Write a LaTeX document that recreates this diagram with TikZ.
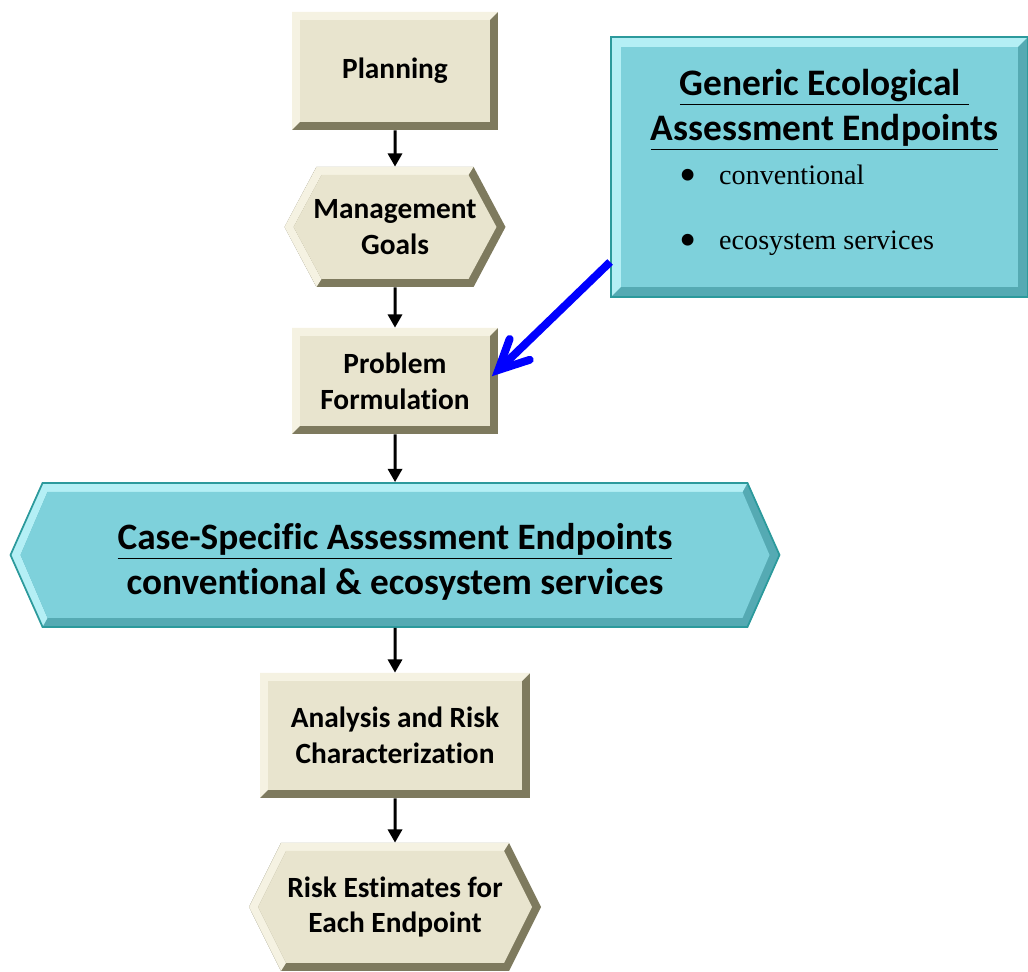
\documentclass[tikz,border=0pt]{standalone}
\usepackage{fontspec}
\setmainfont[Ligatures=NoCommon]{Carlito}
\newfontfamily\bulletfont{Liberation Serif}
\usetikzlibrary{shapes.symbols,arrows.meta,calc}

\definecolor{beigeface}{HTML}{E8E4CE}
\definecolor{beigelight}{HTML}{F5F2E2}
\definecolor{beigedark}{HTML}{7E7A5E}
\definecolor{tealface}{HTML}{7ED1DB}
\definecolor{teallight}{HTML}{B4EFF5}
\definecolor{tealdark}{HTML}{55AAB3}
\definecolor{tealedge}{HTML}{2C9A9C}

\newcommand{\ppb}{path picture bounding box}

\tikzstyle{stepbox} = [rectangle, fill=beigedark, align=center, font=\fontsize{16.7}{20.3}\selectfont\bfseries, path picture={
  \fill[beigelight] (\ppb.south west) -- (\ppb.north west) -- (\ppb.north east) -- ++(-0.16,-0.16) -- ($(\ppb.north west)+(0.16,-0.16)$) -- ($(\ppb.south west)+(0.16,0.16)$) -- cycle;
  \fill[beigeface] ($(\ppb.south west)+(0.16,0.16)$) rectangle ($(\ppb.north east)+(-0.16,-0.16)$);
}]
\tikzstyle{hexbox} = [signal, signal to=east and west, inner xsep=-3pt, fill=beigedark, align=center, font=\fontsize{16.7}{20.3}\selectfont\bfseries, path picture={
  \fill[beigelight] ($(\ppb.south west)+(0.64,0)$) -- (\ppb.west) -- ($(\ppb.north west)+(0.64,0)$) -- ($(\ppb.north east)+(-0.64,0)$) -- ($(\ppb.north east)+(-0.74,-0.16)$) -- ($(\ppb.north west)+(0.74,-0.16)$) -- ($(\ppb.west)+(0.18,0)$) -- ($(\ppb.south west)+(0.74,0.16)$) -- cycle;
  \fill[beigeface] ($(\ppb.west)+(0.18,0)$) -- ($(\ppb.north west)+(0.74,-0.16)$) -- ($(\ppb.north east)+(-0.74,-0.16)$) -- ($(\ppb.east)+(-0.18,0)$) -- ($(\ppb.south east)+(-0.74,0.16)$) -- ($(\ppb.south west)+(0.74,0.16)$) -- cycle;
}]
\tikzstyle{tealbox} = [rectangle, fill=tealdark, draw=tealedge, line width=1pt, path picture={
  \fill[teallight] (\ppb.south west) -- (\ppb.north west) -- (\ppb.north east) -- ++(-0.2,-0.2) -- ($(\ppb.north west)+(0.2,-0.2)$) -- ($(\ppb.south west)+(0.2,0.2)$) -- cycle;
  \fill[tealface] ($(\ppb.south west)+(0.2,0.2)$) rectangle ($(\ppb.north east)+(-0.2,-0.2)$);
}]
\tikzstyle{tealhex} = [signal, signal to=east and west, fill=tealdark, draw=tealedge, line width=1pt, align=center, font=\fontsize{21.2}{25.5}\selectfont\bfseries, path picture={
  \fill[teallight] ($(\ppb.south west)+(0.64,0)$) -- (\ppb.west) -- ($(\ppb.north west)+(0.64,0)$) -- ($(\ppb.north east)+(-0.64,0)$) -- ($(\ppb.north east)+(-0.74,-0.18)$) -- ($(\ppb.north west)+(0.74,-0.18)$) -- ($(\ppb.west)+(0.2,0)$) -- ($(\ppb.south west)+(0.74,0.18)$) -- cycle;
  \fill[tealface] ($(\ppb.west)+(0.2,0)$) -- ($(\ppb.north west)+(0.74,-0.18)$) -- ($(\ppb.north east)+(-0.74,-0.18)$) -- ($(\ppb.east)+(-0.2,0)$) -- ($(\ppb.south east)+(-0.74,0.18)$) -- ($(\ppb.south west)+(0.74,0.18)$) -- cycle;
}]
\tikzstyle{arrow} = [line width=1.7pt, -{Triangle[length=7.5pt,width=8pt]}]
\tikzstyle{bluearrow} = [line width=4.5pt, blue]
\tikzstyle{bluebarb} = [line width=4.5pt, blue, line cap=round, line join=miter]

\begin{document}
\begin{tikzpicture}
\useasboundingbox (0,0) rectangle (20.56,19.44);

\node (plan) [stepbox, minimum width=4.12cm, minimum height=2.36cm, xshift=7.9cm, yshift=18.02cm] {Planning};
\node (goals) [hexbox, minimum width=4.42cm, minimum height=2.4cm, signal pointer angle=124, xshift=7.9cm, yshift=14.9cm] {Management\\Goals};
\node (problem) [stepbox, minimum width=4.12cm, minimum height=2.12cm, xshift=7.9cm, yshift=11.82cm] {Problem\\Formulation};
\node (casespec) [tealhex, minimum width=15.38cm, minimum height=2.88cm, signal pointer angle=132, xshift=7.9cm, yshift=8.34cm] {\rule{0pt}{23pt}\underline{Case-Specific Assessment Endpoints}\\conventional \& ecosystem services};
\node (analysis) [stepbox, minimum width=5.4cm, minimum height=2.5cm, xshift=7.9cm, yshift=4.73cm] {Analysis and Risk\\Characterization};
\node (risk) [hexbox, minimum width=5.84cm, minimum height=2.56cm, signal pointer angle=127, xshift=7.9cm, yshift=1.3cm] {Risk Estimates for\\Each Endpoint};
\node (generic) [tealbox, minimum width=8.34cm, minimum height=5.2cm, xshift=16.39cm, yshift=16.1cm] {\begin{minipage}{8cm}
\centering\fontsize{21.3}{25.5}\selectfont\bfseries
\hspace*{0.2cm}\underline{Generic Ecological\ }\\
\hspace*{0.2cm}\underline{Assessment Endpoints}\par
\vspace{6pt}
\raggedright\bulletfont\fontsize{16}{19}\selectfont\mdseries
\hspace*{1.2cm}\raisebox{-4pt}{\fontsize{28}{28}\selectfont\textbullet}\hspace{0.45cm}conventional\\[18pt]
\hspace*{1.2cm}\raisebox{-4pt}{\fontsize{28}{28}\selectfont\textbullet}\hspace{0.45cm}ecosystem services\par
\vspace{0.15cm}
\end{minipage}};

\coordinate (bluetail) at ([yshift=-1.9cm]generic.west);
\coordinate (bluetip) at ([yshift=0.22cm]problem.east);

\draw [arrow] (plan) -- (goals);
\draw [arrow] (goals) -- (problem);
\draw [arrow] (problem) -- (casespec);
\draw [arrow] (casespec) -- (analysis);
\draw [arrow] (analysis) -- (risk);
\draw [bluearrow] (bluetail) -- (bluetip);
\draw [bluebarb] ($(bluetip)+(70:0.66)$) -- (bluetip) -- ($(bluetip)+(18:0.66)$);

\end{tikzpicture}
\end{document}
